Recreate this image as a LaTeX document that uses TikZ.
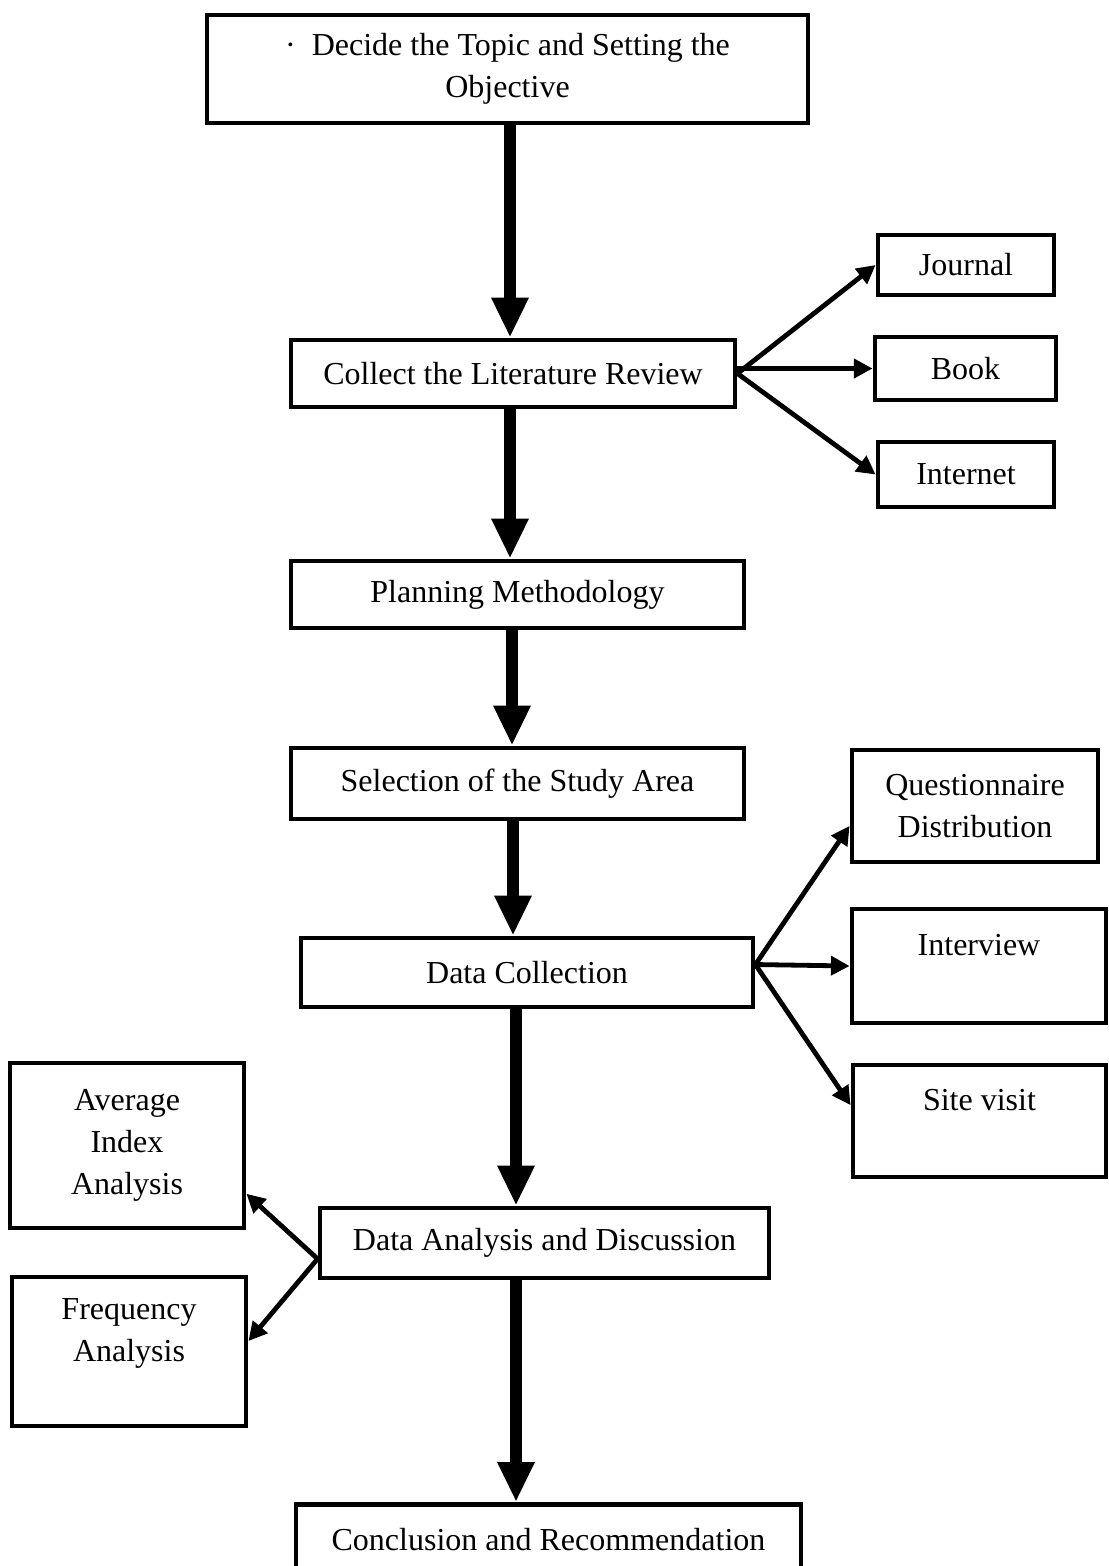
\documentclass[tikz,border=0pt]{standalone}
\usepackage{fontspec}
\setmainfont{Liberation Serif}
\usetikzlibrary{arrows.meta,calc}
\begin{document}
\begin{tikzpicture}[x=0.75pt,y=-0.75pt,
  box/.style={draw=black, line width=3.6pt, fill=white, align=center, inner sep=0pt,
    font=\fontsize{24}{31.5}\selectfont},
  sz/.style 2 args={minimum width=#1*0.75pt, minimum height=#2*0.75pt},
  big/.style={line width=9pt, -{Triangle[length=30pt,width=26pt]}},
  thin/.style={line width=3.6pt, -{Triangle[length=14pt,width=14pt]}}]
\useasboundingbox[fill=white] (0,0) rectangle (1108,1566);
\begin{scope}
\clip (0,0) rectangle (1108,1566);
% main column
\node[box, sz={601}{108}] (top) at (507.5,69) {·\hspace{0.5em}Decide the Topic and Setting the\\Objective};
\node[box, sz={444}{67}] (collect) at (513,373.5) {Collect the Literature Review};
\node[box, sz={453}{67}] (planning) at (517.5,594.5) {Planning Methodology};
\node[box, sz={453}{71}] (selection) at (517.5,783.5) {Selection of the Study Area};
\node[box, sz={452}{69}] (datacoll) at (527,972.5) {Data Collection};
\node[box, sz={449}{70}] (analysis) at (544.5,1243) {Data Analysis and Discussion};
\node[box, sz={505}{70}, anchor=north] (concl) at (548.5,1502) {Conclusion and Recommendation};
% literature sources
\node[box, sz={176}{60}] (journal) at (966,265) {Journal};
\node[box, sz={181}{63}] (book) at (965.5,368.5) {Book};
\node[box, sz={176}{65}] (internet) at (966,474.5) {Internet};
% data collection methods
\node[box, sz={246}{112}] (quest) at (975,806) {Questionnaire\\Distribution};
\node[box, sz={254}{114}] (interview) at (979,966) {Interview\\\mbox{}};
\node[box, sz={253}{112}] (site) at (979.5,1121) {Site visit\\\mbox{}};
% analysis methods
\node[box, sz={234}{165}] (avg) at (127,1145.5) {Average\\Index\\Analysis};
\node[box, sz={234}{149}] (freq) at (129,1351.5) {Frequency\\Analysis\\\mbox{}};
% column positions of the thick arrows
\coordinate (m1) at (510,0);
\coordinate (m3) at (512,0);
\coordinate (m4) at (513,0);
\coordinate (m5) at (516,0);
% thick arrows
\draw[big] (top.south -| m1) -- (collect.north -| m1);
\draw[big] (collect.south -| m1) -- (planning.north -| m1);
\draw[big] (planning.south -| m3) -- (selection.north -| m3);
\draw[big] (selection.south -| m4) -- (datacoll.north -| m4);
\draw[big] (datacoll.south -| m5) -- (analysis.north -| m5);
\draw[big] (analysis.south -| m5) -- (concl.north -| m5);
% thin arrows
\draw[thin] (collect.east) -- (journal.west);
\draw[thin] (collect.east |- book.west) -- (book.west);
\draw[thin] (collect.east) -- (internet.west);
\draw[thin] (datacoll.2) -- (quest.189);
\draw[thin] (datacoll.2) -- (interview.west);
\draw[thin] (datacoll.2) -- (site.173);
\draw[thin] (analysis.184) -- (avg.-22);
\draw[thin] (analysis.184) -- (freq.5);
\end{scope}
\end{tikzpicture}
\end{document}
